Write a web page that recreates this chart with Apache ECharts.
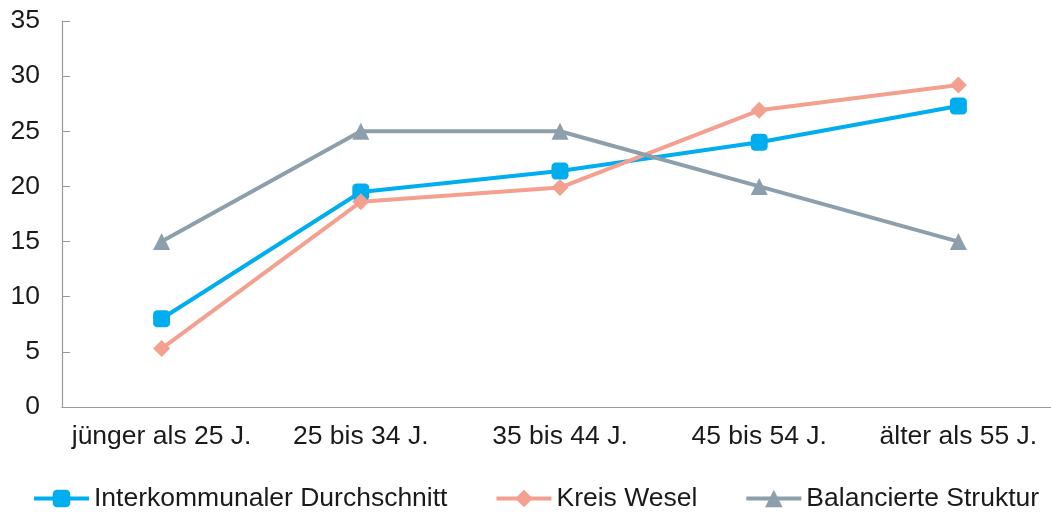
<!DOCTYPE html>
<html>
<head>
<meta charset="utf-8">
<script src="https://cdn.jsdelivr.net/npm/echarts@6/dist/echarts.min.js"></script>
<style>
  html, body { margin: 0; padding: 0; background: #fff; }
  #main { width: 1051px; height: 513px; }
</style>
</head>
<body>
<div id="main"></div>
<script>
// Altersgruppen
var categories = ['jünger als 25 J.', '25 bis 34 J.', '35 bis 44 J.', '45 bis 54 J.', 'älter als 55 J.'];
var interkommunal = [8.0, 19.5, 21.4, 24.0, 27.3];
var kreisWesel = [5.3, 18.6, 19.9, 26.9, 29.2];
var balanciert = [15, 25, 25, 20, 15];

var font = 'Liberation Sans, Arial, sans-serif';

var option = {
    animation: false,
    legend: {
        top: 485,
        left: 32,
        width: 1019,
        padding: 0,
        itemWidth: 55,
        itemHeight: 22,
        itemGap: 47,
        lineStyle: { width: 4 },
        textStyle: { fontFamily: font, fontSize: 26.5, color: '#1a1a1a' },
        data: ['Interkommunaler Durchschnitt', 'Kreis Wesel', 'Balancierte Struktur']
    },
    grid: {
        left: 62,
        top: 21,
        width: 996,
        bottom: 106,
        containLabel: false,
        outerBoundsMode: 'none'
    },
    xAxis: {
        type: 'category',
        data: categories,
        axisLine: { lineStyle: { color: '#999', width: 1.2 } },
        axisTick: { inside: true, length: 8, lineStyle: { color: '#999' } },
        axisLabel: { fontFamily: font, fontSize: 26.5, color: '#1a1a1a', margin: 16, interval: 0 }
    },
    yAxis: {
        type: 'value',
        min: 0,
        max: 35,
        interval: 5,
        splitLine: { show: false },
        axisLine: { show: true, lineStyle: { color: '#999', width: 1.2 } },
        axisTick: { show: true, inside: true, length: 8, lineStyle: { color: '#999' } },
        axisLabel: { fontFamily: font, fontSize: 26.5, color: '#1a1a1a', margin: 22 }
    },
    series: [
        {
            name: 'Interkommunaler Durchschnitt',
            type: 'line',
            data: interkommunal,
            symbol: 'roundRect',
            symbolSize: 17,
            lineStyle: { color: '#00AEEF', width: 4 },
            itemStyle: { color: '#00AEEF' }
        },
        {
            name: 'Kreis Wesel',
            type: 'line',
            data: kreisWesel,
            symbol: 'diamond',
            symbolSize: 17,
            lineStyle: { color: '#F4A090', width: 4 },
            itemStyle: { color: '#F4A090' }
        },
        {
            name: 'Balancierte Struktur',
            type: 'line',
            data: balanciert,
            symbol: 'triangle',
            symbolSize: 17,
            lineStyle: { color: '#8C9FAB', width: 4 },
            itemStyle: { color: '#8C9FAB' }
        }
    ]
};

var myChart = echarts.init(document.getElementById('main'));
myChart.setOption(option);
</script>
</body>
</html>
